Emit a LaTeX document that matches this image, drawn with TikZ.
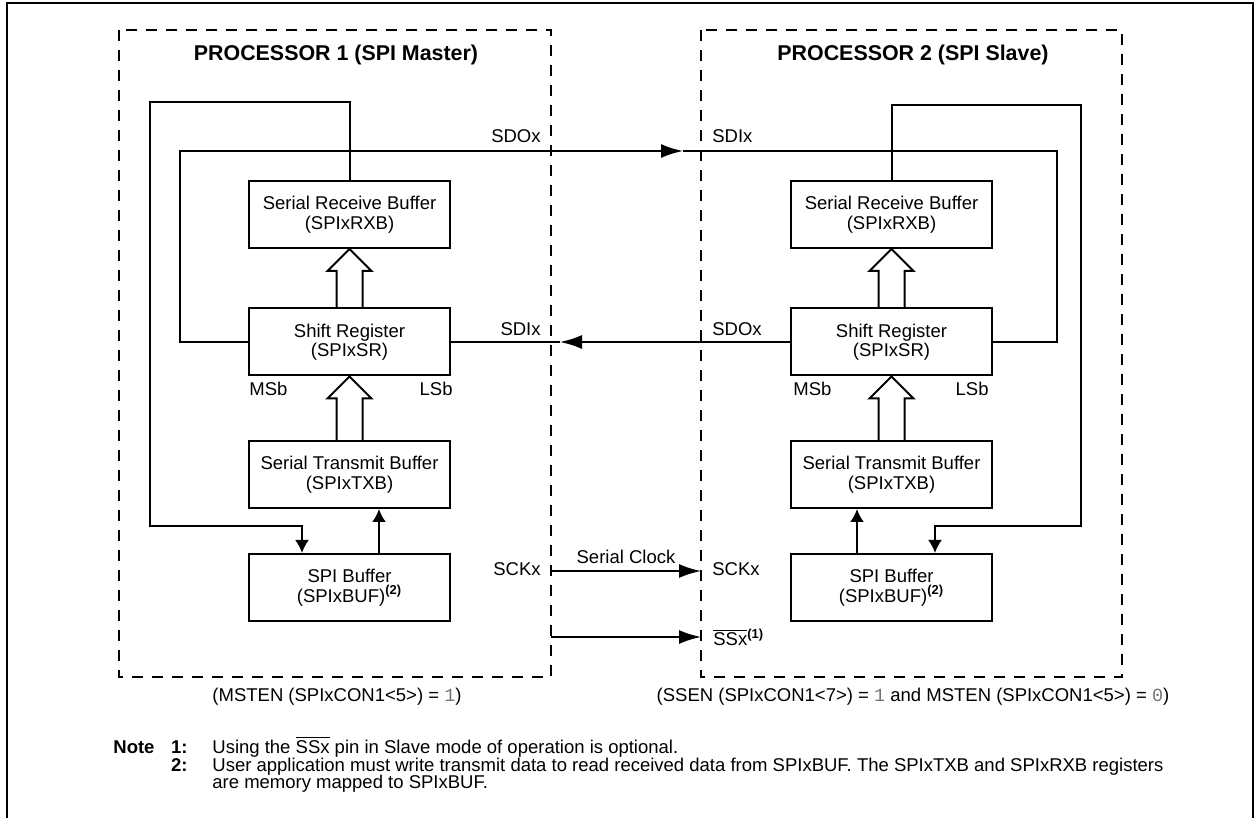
\documentclass[tikz,border=0pt]{standalone}
\usepackage{fontspec}
\setmainfont{Liberation Sans}
\setmonofont{Liberation Mono}
\usetikzlibrary{arrows.meta, calc}

\newcommand{\lbl}{\fontsize{9.25}{9.75}\selectfont}
\newcommand{\ttl}{\fontsize{10.7}{13}\selectfont\bfseries}
\newcommand{\bitval}[1]{\textcolor{black!55}{\texttt{#1}}}
\newcommand{\ssbar}{$\overline{\mbox{SSx}}$}
% wide hollow arrow from the lower block up to the upper block
\newcommand{\fatarrow}[2]{%
  \draw[wire] let \p1=(#1.north), \p2=(#2.south) in
    (\x1-6.5pt,\y1) -- (\x1-6.5pt,\y2-11pt) -- (\x1-11pt,\y2-11pt) -- (\x1,\y2)
    -- (\x1+11pt,\y2-11pt) -- (\x1+6.5pt,\y2-11pt) -- (\x1+6.5pt,\y1);}

\tikzset{
  wire/.style={line width=1pt},
  blk/.style={draw, line width=1pt, minimum width=100.5pt, minimum height=33.5pt,
    align=center, inner sep=0pt, font=\lbl},
  sig/.style={line width=1pt, -{Latex[length=11pt,width=7pt]}},
  feed/.style={line width=1pt, -{Latex[length=6.5pt,width=7pt]}},
  dashbox/.style={line width=1pt, dash pattern=on 5.5pt off 4.5pt},
  pin/.style={font=\lbl, inner sep=0pt},
}

\begin{document}
\begin{tikzpicture}[x=0.5pt, y=-0.5pt]
\useasboundingbox (0,0) rectangle (1255,818);
\draw[wire] (7,818) -- (7,3) -- (1253,3) -- (1253,818);

% the two processors
\draw[dashbox] (119,30) rectangle (551,677);
\draw[dashbox] (701,30) rectangle (1122,677);
\node[font=\ttl] (title1) at (336,55) {PROCESSOR 1 (SPI Master)};
\node[font=\ttl] (title2) at (913,55) {PROCESSOR 2 (SPI Slave)};

\node[blk] (rxb1) at (349.5,214.5) {Serial Receive Buffer\\(SPIxRXB)};
\node[blk] (sr1) at (349.5,342) {Shift Register\\(SPIxSR)};
\node[blk] (txb1) at (349.5,474.5) {Serial Transmit Buffer\\(SPIxTXB)};
\node[blk] (buf1) at (349.5,587.5) {SPI Buffer\\(SPIxBUF)\textsuperscript{\textbf{(2)}}};

\node[blk] (rxb2) at (891.5,214.5) {Serial Receive Buffer\\(SPIxRXB)};
\node[blk] (sr2) at (891.5,342) {Shift Register\\(SPIxSR)};
\node[blk] (txb2) at (891.5,474.5) {Serial Transmit Buffer\\(SPIxTXB)};
\node[blk] (buf2) at (891.5,587.5) {SPI Buffer\\(SPIxBUF)\textsuperscript{\textbf{(2)}}};

\fatarrow{sr1}{rxb1}
\fatarrow{txb1}{sr1}
\fatarrow{sr2}{rxb2}
\fatarrow{txb2}{sr2}

\draw[feed] (379,0 |- buf1.north) -- (379,0 |- txb1.south);
\draw[feed] (857,0 |- buf2.north) -- (857,0 |- txb2.south);
\draw[feed] (rxb1.north) |- (150,102) |- (302,526) -- (302,0 |- buf1.north);
\draw[feed] (rxb2.north) |- (1081,105) |- (935,526) -- (935,0 |- buf2.north);

% lines between the processors
\coordinate (sdotip) at (683,151);
\coordinate (sditip) at (560,342);
\coordinate (sck1) at (551,571);
\coordinate (sck2) at (701,571);
\coordinate (ss1) at (551,637);
\coordinate (ss2) at (701,637);
\draw[sig] (sr1.west) -| (180,151) -- (sdotip);
\draw[wire] (sdotip) -| (1057,342) -- (sr2.east);
\draw[sig] (sr2.west) -- (sditip);
\draw[wire] (sditip) -- (sr1.east);
\draw[sig] (sck1) -- node[pin, above=3pt] (clk) {Serial Clock} (sck2);
\draw[sig] (ss1) -- (ss2);

\node[pin, anchor=east] (sdo1) at (541,136) {SDOx};
\node[pin, anchor=west] (sdi2) at (712,136) {SDIx};
\node[pin, anchor=east] (sdi1) at (541,329) {SDIx};
\node[pin, anchor=west] (sdo2) at (712,329) {SDOx};
\node[pin, anchor=east] (sckl1) at (541,569) {SCKx};
\node[pin, anchor=west] (sckl2) at (712,569) {SCKx};
\node[pin, anchor=base west] (ssl) at (713,646) {\ssbar\textsuperscript{\textbf{(1)}}};
\node[pin, anchor=west] (msb1) at (249,389) {MSb};
\node[pin, anchor=east] (lsb1) at (453,389) {LSb};
\node[pin, anchor=west] (msb2) at (793,389) {MSb};
\node[pin, anchor=east] (lsb2) at (989,389) {LSb};

\node[pin] (mode1) at (337,697) {(MSTEN (SPIxCON1<5>) = \bitval{1})};
\node[pin] (mode2) at (913,697) {(SSEN (SPIxCON1<7>) = \bitval{1} and MSTEN (SPIxCON1<5>) = \bitval{0})};

% notes
\node[pin, anchor=base west, font=\lbl\bfseries] (note) at (113,753.5) {Note};
\node[pin, anchor=base east, font=\lbl\bfseries] (n1) at (188,753.5) {1:};
\node[pin, anchor=base west] (n1txt) at (212,753.5) {Using the \ssbar{} pin in Slave mode of operation is optional.};
\node[pin, anchor=base east, font=\lbl\bfseries] (n2) at (188,771) {2:};
\node[pin, anchor=base west] (n2txt) at (212,771) {User application must write transmit data to read received data from SPIxBUF. The SPIxTXB and SPIxRXB registers};
\node[pin, anchor=base west] (n2more) at (212,788.5) {are memory mapped to SPIxBUF.};
\end{tikzpicture}
\end{document}
